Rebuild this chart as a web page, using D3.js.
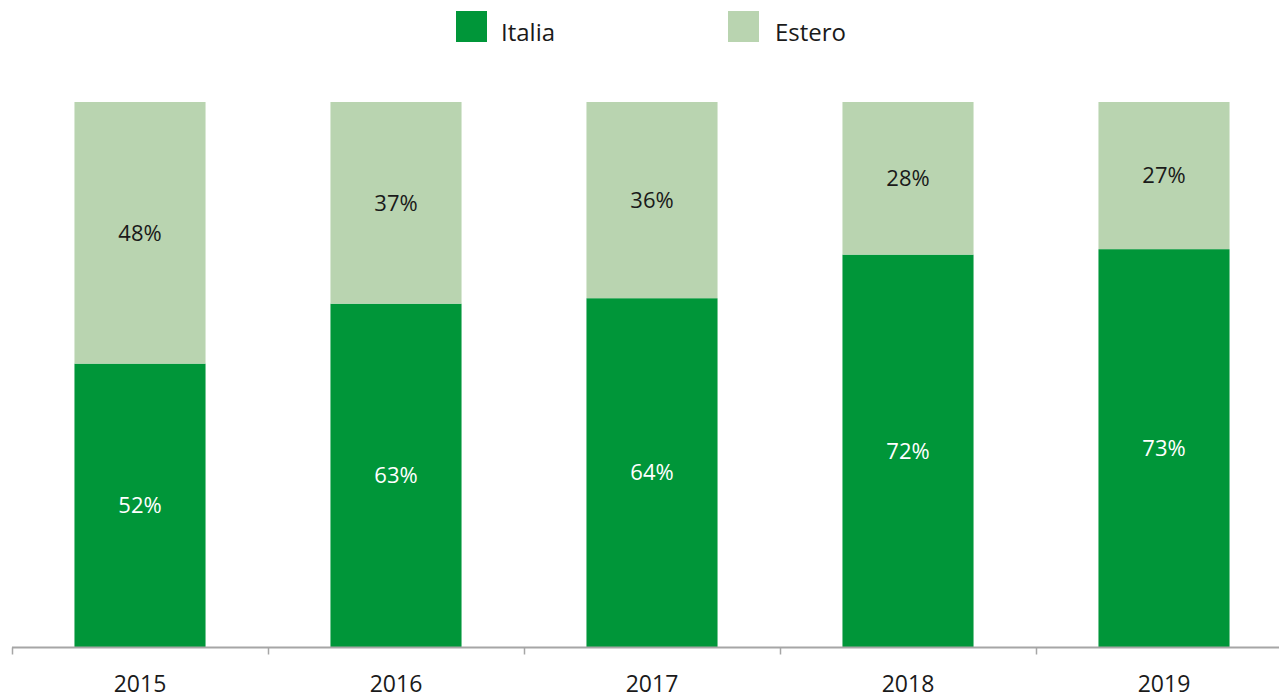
<!DOCTYPE html>
<html>
<head>
<meta charset="utf-8">
<script src="https://cdn.jsdelivr.net/npm/d3@7/dist/d3.min.js"></script>
<style>
  html, body { margin: 0; padding: 0; background: #fff; }
  svg { display: block; font-family: "Open Sans", "Noto Sans", sans-serif; }
</style>
</head>
<body>
<svg id="chart" width="1279" height="699"></svg>
<script>
// Share of revenue by market, 2015–2019 (%)
const years = ["2015", "2016", "2017", "2018", "2019"];
const italia = [52, 63, 64, 72, 73];
const estero = [48, 37, 36, 28, 27];
const seriesNames = ["Italia", "Estero"];
const seriesColors = ["#009639", "#b9d4b0"];

const W = 1279, H = 699;
const margin = { left: 12, right: -13, top: 102, bottom: 52 };
const svg = d3.select("#chart");

const rows = years.map((y, i) => ({ year: y, Italia: italia[i], Estero: estero[i] }));
const stack = d3.stack().keys(seriesNames)(rows);

const x = d3.scaleBand()
  .domain(years)
  .range([margin.left, W - margin.right])
  .paddingInner(0.488)
  .paddingOuter(0.244);

const y = d3.scaleLinear()
  .domain([0, 100])
  .range([H - margin.bottom, margin.top]);

const color = d3.scaleOrdinal().domain(seriesNames).range(seriesColors);

// Stacked bars
const layers = svg.append("g").selectAll("g")
  .data(stack).join("g")
  .attr("fill", d => color(d.key));

layers.selectAll("rect")
  .data(d => d).join("rect")
  .attr("x", d => x(d.data.year))
  .attr("width", x.bandwidth())
  .attr("y", d => y(d[1]))
  .attr("height", d => y(d[0]) - y(d[1]));

// Value labels centred in each segment
layers.selectAll("text")
  .data(d => d.map(v => Object.assign(v, { key: d.key }))).join("text")
  .attr("x", d => x(d.data.year) + x.bandwidth() / 2)
  .attr("y", d => (y(d[0]) + y(d[1])) / 2)
  .attr("dy", "0.35em")
  .attr("text-anchor", "middle")
  .attr("font-size", 22)
  .attr("fill", d => d.key === "Italia" ? "#ffffff" : "#1a1a1a")
  .text(d => (d[1] - d[0]) + "%");

// Category axis with boundary ticks between bands
const axisY = H - margin.bottom + 0.5;
const axisG = svg.append("g");
axisG.append("line")
  .attr("x1", margin.left).attr("x2", W)
  .attr("y1", axisY).attr("y2", axisY)
  .attr("stroke", "#a6a6a6").attr("stroke-width", 2);

const boundaries = years.map(yr => x(yr) - x.step() * x.paddingInner() / 2);
axisG.selectAll("line.tick")
  .data(boundaries).join("line")
  .attr("class", "tick")
  .attr("x1", d => Math.round(d) + 0.5).attr("x2", d => Math.round(d) + 0.5)
  .attr("y1", axisY).attr("y2", axisY + 7)
  .attr("stroke", "#a6a6a6").attr("stroke-width", 1.5);

axisG.selectAll("text")
  .data(years).join("text")
  .attr("x", d => x(d) + x.bandwidth() / 2)
  .attr("y", 692)
  .attr("text-anchor", "middle")
  .attr("font-size", 23)
  .attr("fill", "#1a1a1a")
  .text(d => d);

// Legend
const legendX = [456, 728];
const legend = svg.append("g").selectAll("g")
  .data(seriesNames).join("g")
  .attr("transform", (d, i) => `translate(${legendX[i]},11)`);
legend.append("rect")
  .attr("width", 31).attr("height", 31)
  .attr("fill", d => color(d));
legend.append("text")
  .attr("x", (d, i) => i === 0 ? 45 : 47)
  .attr("y", 30)
  .attr("font-size", 24)
  .attr("fill", "#1a1a1a")
  .text(d => d);
</script>
</body>
</html>
